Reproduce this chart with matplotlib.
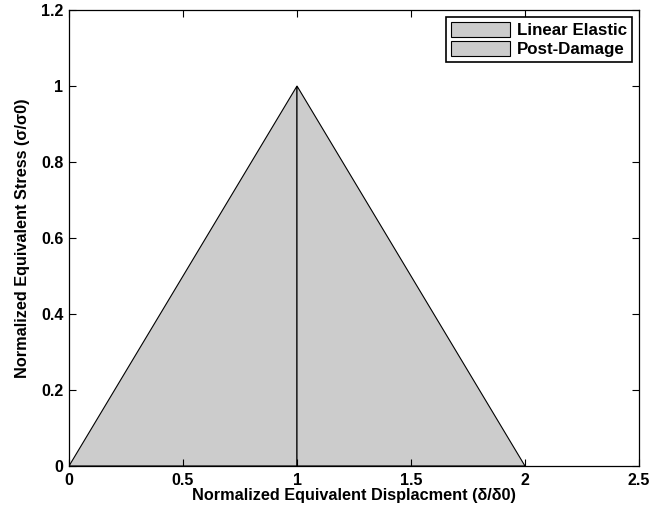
import matplotlib.pyplot as plt

plt.rcParams['font.family'] = ['Liberation Sans', 'DejaVu Sans']
plt.rcParams['font.weight'] = 'bold'

# Normalized traction-separation law
elastic_x = [0, 1, 1]
elastic_y = [0, 1, 0]
damage_x = [1, 2, 1]
damage_y = [1, 0, 0]

xticks = [0, 0.5, 1, 1.5, 2, 2.5]
xticklabels = ['0', '0.5', '1', '1.5', '2', '2.5']
yticks = [0, 0.2, 0.4, 0.6, 0.8, 1, 1.2]
yticklabels = ['0', '0.2', '0.4', '0.6', '0.8', '1', '1.2']

fig = plt.figure(figsize=(6.52, 5.14), dpi=100)
ax = fig.add_axes([69 / 652, 1 - 466 / 514, 570 / 652, 456 / 514])

grey = (0.8, 0.8, 0.8)
ax.fill(elastic_x, elastic_y, facecolor=grey, edgecolor='black', linewidth=0.8,
        label='Linear Elastic')
ax.fill(damage_x, damage_y, facecolor=grey, edgecolor='black', linewidth=0.8,
        label='Post-Damage')

ax.set_xlim(0, 2.5)
ax.set_ylim(0, 1.2)
ax.set_xticks(xticks)
ax.set_xticklabels(xticklabels)
ax.set_yticks(yticks)
ax.set_yticklabels(yticklabels)
ax.tick_params(direction='in', top=True, right=True, length=5, width=0.8,
               labelsize=11.5)
ax.tick_params(axis='x', pad=5)
ax.tick_params(axis='y', pad=4)
for s in ax.spines.values():
    s.set_linewidth(0.9)

ax.set_xlabel('Normalized Equivalent Displacment (δ/δ0)', fontsize=11.7,
              fontweight='bold', labelpad=0)
ax.set_ylabel('Normalized Equivalent Stress (σ/σ0)', fontsize=11.7,
              fontweight='bold', labelpad=8)

leg = ax.legend(loc='upper right', fontsize=12.2, fancybox=False,
                edgecolor='black', framealpha=1, borderaxespad=0.4,
                handlelength=3.5, handleheight=1.0, labelspacing=0.15,
                borderpad=0.3, handletextpad=0.4)
leg.get_frame().set_linewidth(1.2)

fig.savefig('out.png', dpi=100)
